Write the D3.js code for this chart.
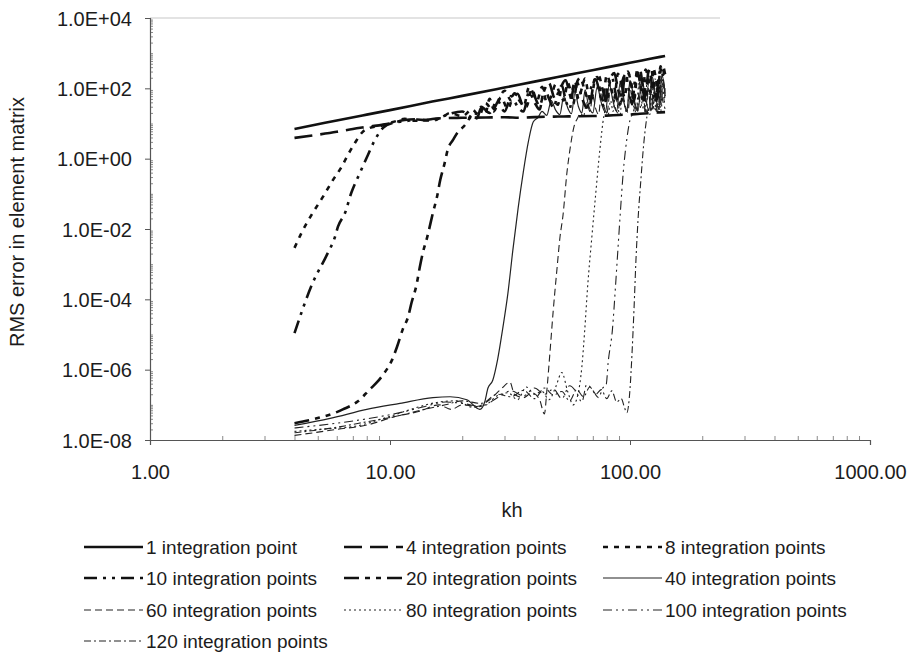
<!DOCTYPE html>
<html><head><meta charset="utf-8">
<script src="https://cdn.jsdelivr.net/npm/d3@7"></script>
<style>
body{margin:0;background:#fff}
svg{display:block}
text{font-family:"Liberation Sans",Arial,Helvetica,sans-serif;fill:#1c1c1c}
</style>
</head><body>
<svg id="chart" width="912" height="657"></svg>
<script>
// ---------- DATA ----------
const seriesNames = ["1 integration point","4 integration points","8 integration points",
  "10 integration points","20 integration points","40 integration points",
  "60 integration points","80 integration points","100 integration points","120 integration points"];

const kh1  = [4,5,6,8,10,15,20,30,40,50,60,80,100,120,140];
const rms1 = [7.0,9.5,12.2,17.9,24,42,61,105,155,209,268,394,532,679,835];

const kh4  = [4,5,6,7,8,10,11.5,12.7,14,15,17,20,25,30,35,40,50,60,70,80,90,100,110,120,130,140];
const rms4 = [3.9,4.8,5.8,7.0,8.0,10,12.6,13.2,12.4,13.5,14.2,14.5,14.8,15.0,14.6,15.2,15.8,16.0,16.3,16.8,17.5,18,19,19.5,20.5,21];

const kh8  = [4,4.3,4.77,5.26,5.79,6.29,6.68,7.14,7.7,8.24,9.1,10.3,11.5,12.7,14,16.2,17.8,
  20,22,23.5,25,27,29,31,33,35,37,39,41,43,45,47,49,51,53,55,57,59,61,63,65,67,69,71,73,75,77,80,83,86,89,92,95,98,101,104,107,110,113,116,119,122,125,128,131,134,137,140];
const rms8 = [2.9e-3,8.3e-3,0.029,0.083,0.25,0.59,1.29,2.8,5.8,7.5,8.5,11,13.5,12,12.6,14,20,
  16,25,17,38,22,55,26,72,40,30,95,45,110,40,60,130,70,45,145,80,160,50,100,190,70,40,150,210,90,45,240,120,50,260,140,55,290,150,60,320,170,65,340,190,70,380,200,80,420,240,360];

const kh10  = [4,4.77,5.47,5.9,6.07,6.5,6.9,7.5,8.1,8.65,9.35,10.3,11.5,13,15,17,
  20,22,24,26,28,30,32,34,36,38,40,42,44,46,48,50,52,54,56,58,60,63,66,69,72,75,78,81,84,87,90,93,96,99,102,105,108,111,114,117,120,124,128,132,136,140];
const rms10 = [1.1e-5,3.0e-4,1.9e-3,6.0e-3,0.0117,0.029,0.107,0.40,1.3,3.4,7.5,10.5,11.5,13,12,17,
  22,14,30,20,45,22,60,30,22,80,40,25,100,50,28,70,120,45,26,95,150,55,28,110,180,65,30,130,210,75,32,160,250,85,35,180,280,95,38,210,320,110,40,250,380,190];

const kh20  = [4,5,6,6.36,7.35,8.26,8.83,9.5,10.2,10.7,11.3,11.9,12.3,12.9,13.3,13.7,14.3,15.1,15.7,16.2,16.9,17.4,18.3,19.2,20.2,
  21,22,23,24,25,26,27,28,30,32,34,36,38,40,42,44,46,48,50,52,54,56,58,60,62,65,68,71,74,77,80,83,86,89,92,95,98,101,104,107,110,113,116,119,122,126,130,134,137,140];
const rms20 = [3.0e-8,4.2e-8,6.2e-8,7.4e-8,1.26e-7,2.8e-7,4.4e-7,8.3e-7,1.9e-6,4.5e-6,1.4e-5,3.2e-5,8.1e-5,2.6e-4,8e-4,2.1e-3,6e-3,0.029,0.083,0.25,0.76,1.8,3.4,5.8,8.0,
  11,18,14,28,20,50,26,40,85,45,70,30,110,60,32,90,140,60,34,120,170,70,36,140,200,80,38,170,230,90,40,190,270,100,42,210,300,110,45,240,340,120,48,270,380,130,50,300,430,250];

const kh40  = [4,5.63,8,11,15.1,17.8,20.9,23.7,24.8,25.6,26.8,28.1,29.5,31,32.5,34.2,35.9,37.7,39.5,41.4,
  43,45,47,49,51,53,55,57,59,61,63,65,67,70,73,76,79,82,85,88,91,94,97,100,104,108,112,116,120,124,128,132,136,140];
const rms40 = [2.6e-8,4.1e-8,7.4e-8,1.1e-7,1.6e-7,1.7e-7,1.4e-7,7.4e-8,1.2e-7,3e-7,5e-7,2e-6,1.5e-5,1.5e-4,2.5e-3,0.04,0.4,3.0,11,15,
  22,17,45,24,18,60,28,19,75,30,20,90,35,20,110,38,21,130,42,22,150,45,22,170,48,23,190,50,24,210,55,25,240,60];

const kh60  = [4,6,8.26,10.2,13.3,16,18,20,23,26,29,31.6,33,36,39,42,44,45,46.4,47.8,49.6,51.1,52.6,54.6,56.2,58.4,60.7,
  62,64,66,68,70,72,74,76,78,80,83,86,89,92,95,98,101,104,107,110,113,116,120,124,128,132,136,140];
const rms60 = [1.35e-8,2e-8,2.8e-8,4.4e-8,6.6e-8,1e-7,7.4e-8,1e-7,9e-8,1.4e-7,2.8e-7,4.4e-7,2e-7,1.6e-7,2.2e-7,1.4e-7,5.5e-8,2.4e-7,3.1e-6,4.2e-5,7e-4,6e-3,0.025,0.4,1.8,8,15,
  20,16,40,22,60,26,18,80,30,19,100,35,20,120,38,21,140,42,22,160,45,23,180,50,24,210,55,26];

const kh80  = [4,5,7,10,13,16,19,22,25,28,31,34,37,40,43,46,49,52,55,58,60.7,63,64.8,66.6,69.2,71.9,74.9,77.7,
  79,81,83,85,87,89,91,93,95,97,100,103,106,109,112,115,118,121,124,127,130,133,136,140];
const rms80 = [1.76e-8,2e-8,2.4e-8,4.7e-8,8.5e-8,1.2e-7,1.3e-7,8.5e-8,1e-7,1.8e-7,2.2e-7,1.4e-7,3.2e-7,2e-7,2.4e-7,1.4e-7,3.2e-7,8.3e-7,2.4e-7,1e-7,2e-7,1.2e-6,1.4e-5,2.3e-4,5e-3,0.093,1.8,15,
  24,17,45,22,70,28,18,90,32,20,115,36,21,140,40,22,170,45,23,190,50,24,220,60];

const kh100  = [4,6,8,11,14,17,20,24,28,32,36,40,44,48,52,56,60,63,66,70,74,77,79.6,81.1,84.5,87,89.6,91.3,93.7,96.9,100,103,
  105,107,109,111,113,115,117,119,121,123,125,127,129,131,133,135,137,140];
const rms100 = [2.2e-8,3e-8,4e-8,6e-8,9e-8,1.2e-7,1.1e-7,9e-8,1.6e-7,2.5e-7,1.8e-7,3e-7,2e-7,2.8e-7,1.5e-7,3.5e-7,2.2e-7,1.2e-7,3.8e-7,2.6e-7,1.6e-7,3e-7,3.8e-7,1.6e-6,1.4e-5,2.3e-4,5e-3,0.035,0.4,3.4,12.6,20,
  30,20,60,26,95,32,19,120,38,21,150,42,22,180,48,23,200,70];

const kh120  = [4,6,8,11,14,17,20,24,28,32,36,40,44,48,52,56,60,64,68,72,76,80,84,88,92,95,97,100,101.9,103.9,105.9,108,111,114,117.5,
  119,121,123,125,127,129,131,133,135,137,139,140];
const rms120 = [1.6e-8,2.3e-8,3.3e-8,5e-8,7.5e-8,1e-7,1.3e-7,1.1e-7,2e-7,1.7e-7,2.6e-7,1.5e-7,3e-7,1.9e-7,2.4e-7,1.3e-7,2.7e-7,1.7e-7,3.2e-7,2e-7,2.7e-7,1.5e-7,2.5e-7,1.2e-7,1.5e-7,8e-8,6e-8,2.8e-7,2.7e-6,5.1e-5,1.35e-3,0.018,0.25,2.5,15,
  26,18,50,24,85,30,20,120,35,160,40,100];

const xTickValues = [1,10,100,1000];
const xTickLabels = ["1.00","10.00","100.00","1000.00"];
const yTickValues = [1e4,1e2,1,1e-2,1e-4,1e-6,1e-8];
const yTickLabels = ["1.0E+04","1.0E+02","1.0E+00","1.0E-02","1.0E-04","1.0E-06","1.0E-08"];
const xTitle = "kh";
const yTitle = "RMS error in element matrix";

// ---------- BUILD ----------
const khs  = [kh1,kh4,kh8,kh10,kh20,kh40,kh60,kh80,kh100,kh120];
const rmss = [rms1,rms4,rms8,rms10,rms20,rms40,rms60,rms80,rms100,rms120];
const series = seriesNames.map((n,i)=>({name:n, pts: khs[i].map((k,j)=>({x:k,y:rmss[i][j]}))}));

const widths = [2.6,2.6,2.6,2.6,2.6,1.2,1.1,1.1,1.1,1.1];
const dashes = [null,"18,8","5,6","13,6,3,6,3,6","15,6,5,6,5,6",null,"7,4","2,3","9,4,2,4,2,4","7,3,2,3"];

const svg = d3.select("#chart");
const L=150,R=870,T=18,B=440;
const x = d3.scaleLog().domain([1,1000]).range([L,R]);
const y = d3.scaleLog().domain([1e-8,1e4]).range([B,T]);

svg.append("line").attr("x1",L).attr("x2",720).attr("y1",T).attr("y2",T)
  .attr("stroke","#c8c8c8").attr("stroke-width",1.2);

const xMinor=[]; for(let d=1;d<1000;d*=10) for(let m=2;m<=9;m++) xMinor.push(d*m);
const yMinor=[]; for(let e=-8;e<4;e++){ for(let m=2;m<=9;m++) yMinor.push(m*Math.pow(10,e)); if(e%2!==0) yMinor.push(Math.pow(10,e)); }

const gxm = svg.append("g").attr("transform",`translate(0,${B})`)
  .call(d3.axisBottom(x).tickValues(xMinor).tickSize(-4).tickFormat(""));
const gym = svg.append("g").attr("transform",`translate(${L},0)`)
  .call(d3.axisLeft(y).tickValues(yMinor).tickSize(-3).tickFormat(""));
[gxm,gym].forEach(g=>{g.select(".domain").remove(); g.selectAll("line").attr("stroke","#8a8a8a");});

const gx = svg.append("g").attr("transform",`translate(0,${B})`)
  .call(d3.axisBottom(x).tickValues(xTickValues).tickSize(5).tickPadding(24)
    .tickFormat((d,i)=>xTickLabels[i]));
const gy = svg.append("g").attr("transform",`translate(${L},0)`)
  .call(d3.axisLeft(y).tickValues(yTickValues).tickSize(5).tickPadding(13)
    .tickFormat((d,i)=>yTickLabels[i]));
[gx,gy].forEach(g=>{
  g.select(".domain").attr("stroke","#555").attr("stroke-width",1.2);
  g.selectAll(".tick line").attr("stroke","#555");
  g.selectAll("text").attr("font-size",20).attr("fill","#1c1c1c")
    .style("font-family",'"Liberation Sans",Arial,sans-serif');
});
gy.selectAll("text").attr("dy","0.36em");
gx.selectAll("text").attr("dy","0.5em");

svg.append("text").attr("x",512).attr("y",517).attr("text-anchor","middle")
  .attr("font-size",20).text(xTitle);
svg.append("text").attr("transform","translate(24,222) rotate(-90)")
  .attr("text-anchor","middle").attr("font-size",20).text(yTitle);

svg.append("clipPath").attr("id","clip").append("rect")
  .attr("x",L).attr("y",T).attr("width",R-L).attr("height",B-T);
const line = d3.line().x(d=>x(d.x)).y(d=>y(d.y)).curve(d3.curveMonotoneX);
const gl = svg.append("g").attr("clip-path","url(#clip)");
series.slice().reverse().forEach((s,ri)=>{
  const i = series.length-1-ri;
  gl.append("path").datum(s.pts).attr("d",line)
    .attr("fill","none").attr("stroke", i<5?"#111":"#222")
    .attr("stroke-width",widths[i])
    .attr("stroke-dasharray",dashes[i])
    .attr("stroke-linejoin","round");
});

const colText=[146,406,665], rowY=[547,578,610,641];
const lg = svg.append("g");
series.forEach((s,i)=>{
  const r=Math.floor(i/3), c=i%3;
  const tx=colText[c], yy=rowY[r];
  lg.append("line").attr("x1",tx-62).attr("x2",tx-3).attr("y1",yy).attr("y2",yy)
    .attr("stroke",i<5?"#111":"#222").attr("stroke-width",widths[i])
    .attr("stroke-dasharray",dashes[i]);
  lg.append("text").attr("x",tx).attr("y",yy).attr("dy","0.36em")
    .attr("font-size",19).text(s.name);
});
</script>
</body></html>
